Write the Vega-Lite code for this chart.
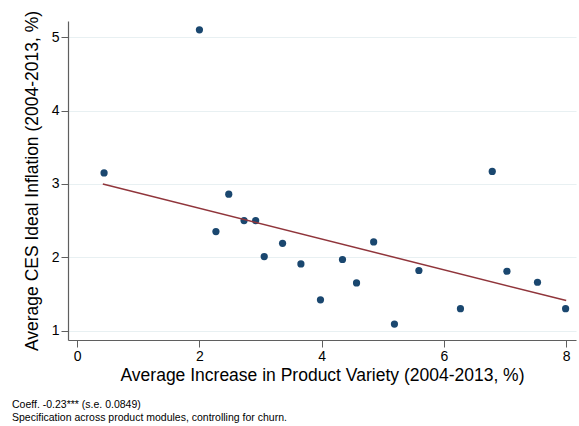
{
  "$schema": "https://vega.github.io/schema/vega-lite/v6.json",
  "autosize": "none",
  "width": 508,
  "height": 319,
  "padding": {"left": 68, "top": 21, "right": 3, "bottom": 86},
  "background": "white",
  "config": {
    "view": {"stroke": null},
    "font": "Liberation Sans",
    "axis": {
      "domainColor": "#5f5f5f",
      "domainWidth": 1.2,
      "tickColor": "#5f5f5f",
      "tickSize": 7,
      "labelFont": "Liberation Sans",
      "labelFontSize": 14,
      "labelColor": "#000000",
      "titleFont": "Liberation Sans",
      "titleFontSize": 17.5,
      "titleFontWeight": "normal",
      "titleColor": "#000000",
      "gridColor": "#e8f0f2",
      "gridWidth": 1.2
    }
  },
  "title": {
    "text": ["Coeff. -0.23*** (s.e. 0.0849)", "Specification across product modules, controlling for churn."],
    "orient": "bottom",
    "anchor": "start",
    "frame": "group",
    "dx": -56,
    "offset": 16,
    "fontSize": 10.5,
    "fontWeight": "normal",
    "font": "Liberation Sans",
    "color": "#000000",
    "lineHeight": 13
  },
  "datasets": {
    "points": [
      {"variety": 0.44, "inflation": 3.15},
      {"variety": 2.0, "inflation": 5.10},
      {"variety": 2.27, "inflation": 2.35},
      {"variety": 2.48, "inflation": 2.86},
      {"variety": 2.73, "inflation": 2.50},
      {"variety": 2.92, "inflation": 2.50},
      {"variety": 3.06, "inflation": 2.01},
      {"variety": 3.36, "inflation": 2.19},
      {"variety": 3.66, "inflation": 1.91},
      {"variety": 3.98, "inflation": 1.42},
      {"variety": 4.34, "inflation": 1.97},
      {"variety": 4.57, "inflation": 1.65},
      {"variety": 4.85, "inflation": 2.21},
      {"variety": 5.19, "inflation": 1.09},
      {"variety": 5.59, "inflation": 1.82},
      {"variety": 6.27, "inflation": 1.30},
      {"variety": 6.79, "inflation": 3.17},
      {"variety": 7.03, "inflation": 1.81},
      {"variety": 7.53, "inflation": 1.66},
      {"variety": 7.99, "inflation": 1.30}
    ],
    "fit": [
      {"variety": 0.42, "inflation": 3.00},
      {"variety": 8.0, "inflation": 1.41}
    ]
  },
  "layer": [
    {
      "data": {"name": "points"},
      "mark": {"type": "point", "filled": true, "shape": "circle", "size": 52, "color": "#1a476f", "opacity": 1},
      "encoding": {
        "x": {
          "field": "variety", "type": "quantitative",
          "scale": {"domain": [-0.15, 8.16], "nice": false, "zero": false},
          "axis": {"values": [0, 2, 4, 6, 8], "format": "d", "grid": false, "title": "Average Increase in Product Variety (2004-2013, %)", "labelPadding": 2, "titlePadding": 3}
        },
        "y": {
          "field": "inflation", "type": "quantitative",
          "scale": {"domain": [0.873, 5.22], "nice": false, "zero": false},
          "axis": {"values": [1, 2, 3, 4, 5], "format": "d", "grid": true, "title": "Average CES Ideal Inflation (2004-2013, %)", "labelPadding": 2, "titlePadding": 10}
        }
      }
    },
    {
      "data": {"name": "fit"},
      "mark": {"type": "line", "color": "#90353b", "strokeWidth": 1.5},
      "encoding": {
        "x": {"field": "variety", "type": "quantitative"},
        "y": {"field": "inflation", "type": "quantitative"}
      }
    }
  ]
}
